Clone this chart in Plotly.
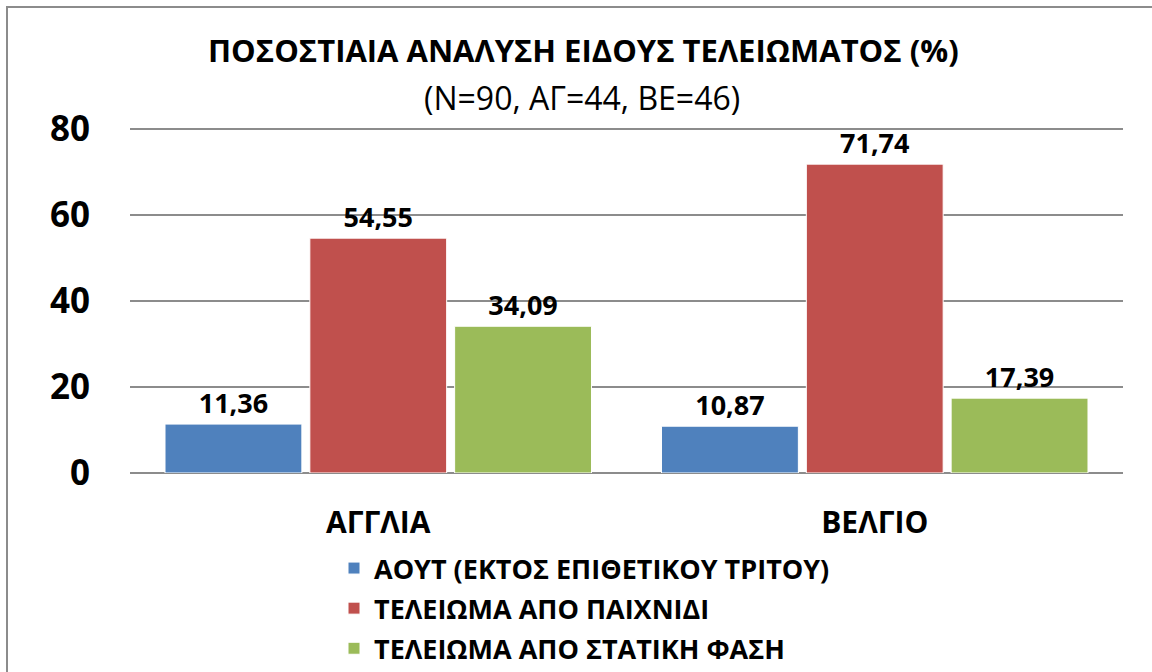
import plotly.graph_objects as go

categories = ["ΑΓΓΛΙΑ", "ΒΕΛΓΙΟ"]
series_names = ["ΑΟΥΤ (ΕΚΤΟΣ ΕΠΙΘΕΤΙΚΟΥ ΤΡΙΤΟΥ)", "ΤΕΛΕΙΩΜΑ ΑΠΟ ΠΑΙΧΝΙΔΙ", "ΤΕΛΕΙΩΜΑ ΑΠΟ ΣΤΑΤΙΚΗ ΦΑΣΗ"]
out_vals = [11.36, 10.87]
play_vals = [54.55, 71.74]
setpiece_vals = [34.09, 17.39]
y_ticks = [0, 20, 40, 60, 80]
title_text = "ΠΟΣΟΣΤΙΑΙΑ ΑΝΑΛΥΣΗ ΕΙΔΟΥΣ ΤΕΛΕΙΩΜΑΤΟΣ (%)"
subtitle_text = "(N=90, ΑΓ=44, ΒΕ=46)"

colors = ["#4F81BD", "#C0504D", "#9BBB59"]
FONT = "Open Sans"

fig = go.Figure()
for i, (name, vals, col) in enumerate(zip(series_names, [out_vals, play_vals, setpiece_vals], colors)):
    fig.add_trace(go.Bar(
        x=categories, y=vals, name=name, legendgroup=f"g{i}",
        marker=dict(color=col, line=dict(color="white", width=1)),
        text=vals, texttemplate="%{y:.2f}", textposition="outside",
        textfont=dict(family=FONT, size=27, color="black", weight="bold"),
        cliponaxis=False,
    ))

W, H = 1152, 672
Y_MAX = 80.6
L, R, B = 130, 29, 199
ph = 344 * Y_MAX / 80
T = round(H - B - ph)
pw = W - L - R
ph = H - T - B

def px_x(px):
    return (px - L) / pw

def px_y(py):
    return (H - B - py) / ph

fig.update_layout(
    width=W, height=H,
    margin=dict(l=L, r=R, t=T, b=B, autoexpand=False),
    paper_bgcolor="white", plot_bgcolor="white",
    separators=",.",
    barmode="group", bargap=0.125, bargroupgap=0.055,
    showlegend=True,
    legend=dict(
        orientation="v", x=px_x(334), y=px_y(544), xanchor="left", yanchor="top",
        font=dict(family=FONT, size=27, color="black", weight="bold"),
        itemwidth=30, tracegroupgap=2, bgcolor="rgba(0,0,0,0)",
    ),
    xaxis=dict(
        tickfont=dict(family=FONT, size=30, color="black", weight="bold"),
        showgrid=False, showline=False, ticks="outside", ticklen=23, tickcolor="rgba(0,0,0,0)",
        automargin=False,
    ),
    yaxis=dict(
        range=[0, Y_MAX], tickvals=y_ticks, showgrid=True, gridcolor="#8C8C8C", gridwidth=1.5,
        zeroline=True, zerolinecolor="#8C8C8C", zerolinewidth=1.5,
        tickfont=dict(family=FONT, size=35, color="black", weight="bold"),
        ticks="outside", ticklen=32, tickcolor="rgba(0,0,0,0)",
        automargin=False,
    ),
    annotations=[
        dict(text=title_text, x=px_x(583.5), xref="paper", y=px_y(50), yref="paper",
             xanchor="center", yanchor="middle", showarrow=False,
             font=dict(family=FONT, size=31, color="black", weight="bold")),
        dict(text=subtitle_text, x=px_x(582), xref="paper", y=px_y(97), yref="paper",
             xanchor="center", yanchor="middle", showarrow=False,
             font=dict(family=FONT, size=32, color="black")),
    ],
    shapes=[
        dict(type="rect", xref="paper", yref="paper",
             x0=px_x(7), x1=px_x(1200), y0=px_y(720), y1=px_y(7),
             line=dict(color="#8C8C8C", width=2), fillcolor="rgba(0,0,0,0)", layer="below"),
    ],
)

fig.write_html("out.html", config={"displayModeBar": False},
               post_script="document.body.style.margin='0';document.body.style.overflow='hidden';")
